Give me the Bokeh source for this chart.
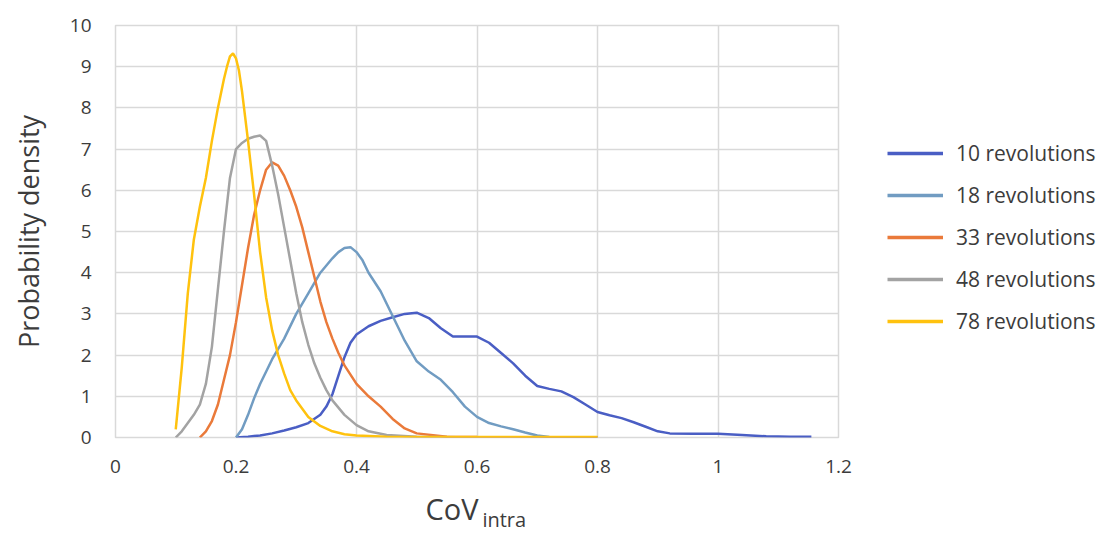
from bokeh.plotting import figure
from bokeh.layouts import column, row
from bokeh.models import Legend, LegendItem, FixedTicker, Range1d
from bokeh.core.properties import value
from bokeh.embed import file_html
from bokeh.resources import INLINE

# ---------------- data ----------------
x78 = [0.10, 0.11, 0.12, 0.13, 0.14, 0.15, 0.16, 0.17, 0.18, 0.185, 0.19, 0.195, 0.20, 0.205, 0.21, 0.22, 0.23,
       0.24, 0.25, 0.26, 0.27, 0.28, 0.29, 0.30, 0.32, 0.34, 0.36, 0.38, 0.40, 0.45, 0.50, 0.60, 0.70, 0.80]
y78 = [0.2, 1.7, 3.5, 4.8, 5.6, 6.3, 7.2, 8.0, 8.7, 9.0, 9.25, 9.32, 9.2, 8.9, 8.4, 7.2, 5.9,
       4.5, 3.4, 2.6, 2.0, 1.55, 1.15, 0.9, 0.5, 0.28, 0.15, 0.08, 0.05, 0.02, 0.01, 0.01, 0.01, 0.01]

x48 = [0.10, 0.11, 0.12, 0.13, 0.14, 0.15, 0.16, 0.17, 0.18, 0.19, 0.20, 0.21, 0.22, 0.23, 0.24,
       0.25, 0.26, 0.27, 0.28, 0.29, 0.30, 0.31, 0.32, 0.33, 0.34, 0.35, 0.36, 0.38, 0.40, 0.42,
       0.45, 0.50, 0.60, 0.80]
y48 = [0.0, 0.15, 0.35, 0.55, 0.8, 1.3, 2.2, 3.6, 5.0, 6.3, 7.0, 7.15, 7.25, 7.3, 7.33,
       7.2, 6.6, 5.9, 5.1, 4.3, 3.5, 2.8, 2.25, 1.8, 1.45, 1.15, 0.9, 0.55, 0.3, 0.15,
       0.06, 0.02, 0.0, 0.0]

x33 = [0.14, 0.15, 0.16, 0.17, 0.18, 0.19, 0.20, 0.21, 0.22, 0.23, 0.24, 0.25, 0.26, 0.27, 0.28,
       0.29, 0.30, 0.31, 0.32, 0.33, 0.34, 0.35, 0.36, 0.37, 0.38, 0.40, 0.42, 0.44, 0.46, 0.48,
       0.50, 0.55, 0.60, 0.80]
y33 = [0.0, 0.15, 0.4, 0.8, 1.4, 2.0, 2.8, 3.7, 4.6, 5.4, 6.0, 6.5, 6.68, 6.6, 6.35,
       6.0, 5.6, 5.1, 4.5, 3.9, 3.3, 2.8, 2.4, 2.05, 1.75, 1.3, 1.0, 0.75, 0.45, 0.22,
       0.1, 0.02, 0.01, 0.0]

x18 = [0.20, 0.21, 0.22, 0.23, 0.24, 0.26, 0.28, 0.30, 0.32, 0.34, 0.36, 0.37, 0.38, 0.39, 0.40, 0.41, 0.42,
       0.44, 0.46, 0.48, 0.50, 0.52, 0.54, 0.56, 0.58, 0.60, 0.62, 0.64, 0.66, 0.68, 0.70, 0.72, 0.80]
y18 = [0.0, 0.2, 0.55, 0.95, 1.3, 1.9, 2.4, 3.0, 3.5, 4.0, 4.35, 4.5, 4.6, 4.62, 4.5, 4.3, 4.0,
       3.55, 2.95, 2.35, 1.85, 1.6, 1.4, 1.1, 0.75, 0.5, 0.35, 0.27, 0.2, 0.12, 0.05, 0.01, 0.0]

x10 = [0.20, 0.22, 0.24, 0.26, 0.28, 0.30, 0.32, 0.34, 0.35, 0.36, 0.37, 0.38, 0.39, 0.40, 0.42,
       0.44, 0.46, 0.48, 0.50, 0.52, 0.54, 0.56, 0.58, 0.60, 0.62, 0.64, 0.66, 0.68, 0.70, 0.72,
       0.74, 0.76, 0.78, 0.80, 0.82, 0.84, 0.86, 0.88, 0.90, 0.92, 0.96, 1.00, 1.04, 1.08, 1.12, 1.155]
y10 = [0.0, 0.02, 0.05, 0.1, 0.17, 0.25, 0.35, 0.55, 0.75, 1.05, 1.5, 1.95, 2.3, 2.5, 2.7,
       2.83, 2.92, 3.0, 3.03, 2.9, 2.65, 2.45, 2.45, 2.45, 2.3, 2.05, 1.8, 1.5, 1.25, 1.18,
       1.12, 0.98, 0.8, 0.62, 0.54, 0.47, 0.37, 0.26, 0.15, 0.1, 0.09, 0.09, 0.06, 0.03, 0.02, 0.02]

series_names = ["10 revolutions", "18 revolutions", "33 revolutions", "48 revolutions", "78 revolutions"]
series_x = [x10, x18, x33, x48, x78]
series_y = [y10, y18, y33, y48, y78]
series_colors = ["#4a5ec4", "#719cc2", "#ea7a3a", "#a3a3a3", "#ffc20e"]

x_ticks = [0, 0.2, 0.4, 0.6, 0.8, 1.0, 1.2]
x_tick_labels = {0: "0", 0.2: "0.2", 0.4: "0.4", 0.6: "0.6", 0.8: "0.8", 1.0: "1", 1.2: "1.2"}
y_ticks = list(range(0, 11))
x_title = "CoV"
x_title_sub = "intra"
y_title = "Probability density"

FONT = "Open Sans"
TXT = "#3c3c3c"
MAIN_W = 858
LEG_W = 252

p = figure(width=MAIN_W, height=482, output_backend="svg", toolbar_location=None,
           x_range=Range1d(0, 1.2), y_range=Range1d(0, 10),
           min_border_left=115, min_border_right=20, min_border_top=25, min_border_bottom=45)

p.outline_line_color = "#d9d9d9"
p.outline_line_width = 1.5
p.background_fill_color = "white"
p.border_fill_color = "white"

p.xgrid.ticker = FixedTicker(ticks=x_ticks)
p.ygrid.ticker = FixedTicker(ticks=y_ticks)
for g in (p.xgrid, p.ygrid):
    g.grid_line_color = "#d9d9d9"
    g.grid_line_width = 1.5

p.xaxis.ticker = FixedTicker(ticks=x_ticks)
p.yaxis.ticker = FixedTicker(ticks=y_ticks)
p.xaxis.major_label_overrides = x_tick_labels
for ax in (p.xaxis, p.yaxis):
    ax.axis_line_color = None
    ax.major_tick_line_color = None
    ax.minor_tick_line_color = None
    ax.major_label_text_font = FONT
    ax.major_label_text_font_size = "19px"
    ax.major_label_text_color = TXT
p.xaxis.major_label_standoff = 16
p.yaxis.major_label_standoff = 18

p.yaxis.axis_label = y_title
p.yaxis.axis_label_text_font = FONT
p.yaxis.axis_label_text_font_size = "27px"
p.yaxis.axis_label_text_font_style = "normal"
p.yaxis.axis_label_text_color = TXT
p.yaxis.axis_label_standoff = 20

for xs, ys, c in zip(series_x, series_y, series_colors):
    p.line(xs, ys, line_color=c, line_width=2.5)

# legend strip to the right of the plot (legend handles only: one undefined point each)
L = figure(width=LEG_W, height=482, output_backend="svg", toolbar_location=None, title=None,
           x_range=Range1d(0, 1), y_range=Range1d(0, 1),
           x_axis_location=None, y_axis_location=None,
           min_border_left=0, min_border_right=0, min_border_top=25, min_border_bottom=45)
L.grid.visible = False
L.outline_line_color = None
nan = float("nan")
leg_renderers = [L.line(x=[nan], y=[nan], line_color=c, line_width=3.5) for c in series_colors]
legend = Legend(items=[LegendItem(label=n, renderers=[r]) for n, r in zip(series_names, leg_renderers)],
                location=(29, 102))
legend.padding = 0
legend.margin = 0
legend.border_line_alpha = 0
legend.background_fill_alpha = 0
legend.glyph_width = 56
legend.glyph_height = 20
legend.label_height = 20
legend.spacing = 14
legend.label_standoff = 13
legend.label_text_font = FONT
legend.label_text_font_size = "21px"
legend.label_text_color = TXT
L.add_layout(legend, "center")

# x-axis title with subscript, in a strip below the plot sharing the x scale
q = figure(width=MAIN_W, height=52, output_backend="svg", toolbar_location=None, title=None,
           x_range=p.x_range, y_range=Range1d(0, 52),
           x_axis_location=None, y_axis_location=None,
           min_border_left=115, min_border_right=20, min_border_top=0, min_border_bottom=0)
q.grid.visible = False
q.outline_line_color = None
q.border_fill_color = "white"
q.text(x=[0.5145], y=[26], text=[x_title], text_font=value(FONT), text_font_size="29px",
       text_color=TXT, text_baseline="alphabetic", text_align="left")
q.text(x=[0.609], y=[15], text=[x_title_sub], text_font=value(FONT), text_font_size="20px",
       text_color=TXT, text_baseline="alphabetic", text_align="left")

layout = row(column(p, q, spacing=0), L, spacing=0)
open("out.html", "w").write(file_html(layout, INLINE))
